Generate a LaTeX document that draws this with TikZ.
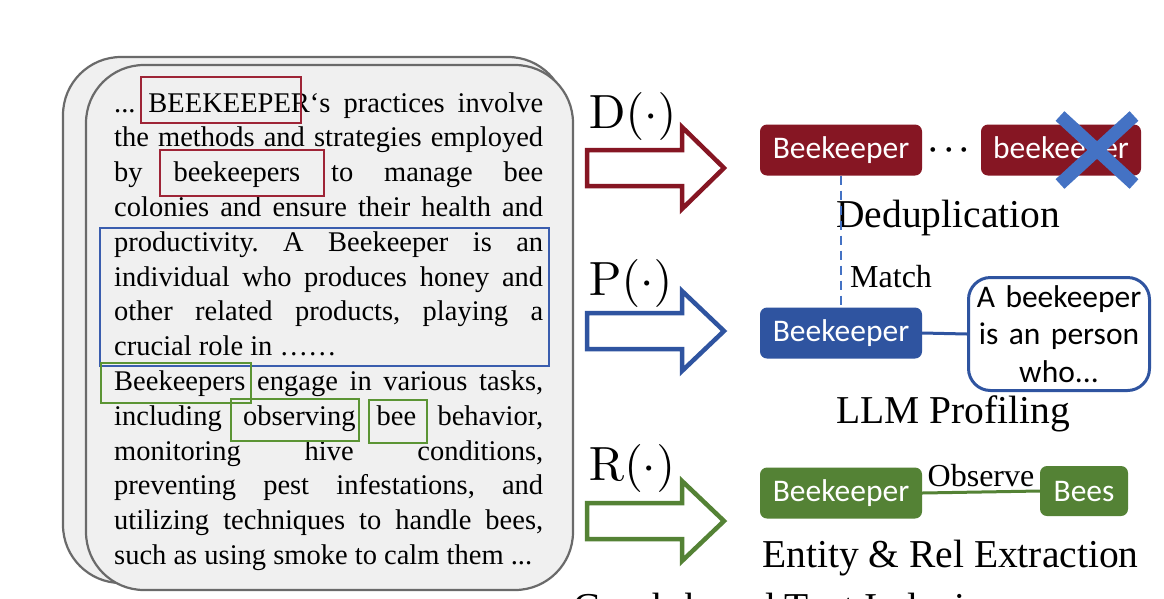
\documentclass[tikz,border=0pt]{standalone}
\usepackage[no-math]{fontspec}
\setmainfont{Liberation Serif}
\newfontfamily\carlito{Carlito}
\definecolor{dred}{HTML}{861623}
\definecolor{bred}{HTML}{9E2436}
\definecolor{dblue}{HTML}{2F54A0}
\definecolor{lblue}{HTML}{4472C4}
\definecolor{bblue}{HTML}{3A5DAE}
\definecolor{dgreen}{HTML}{548235}
\definecolor{bgreen}{HTML}{5B9434}
\definecolor{cardfill}{HTML}{F0F0F0}
\definecolor{cardline}{HTML}{6A6A6A}
\tikzset{
  card/.style={draw=cardline, line width=2.2pt, fill=cardfill, rounded corners=58pt},
  wordbox/.style={line width=2.8pt},
  tag/.style={rounded corners=7pt, text=white, font=\carlito\fontsize{31.5}{36}\selectfont,
    minimum width=162pt, minimum height=51pt, inner sep=0pt},
  bigarrow/.style={line width=4.5pt, fill=white, line join=miter},
  lbl/.style={font=\fontsize{39.5}{45}\selectfont, inner sep=0pt, anchor=base west},
  fn/.style={font=\fontsize{10}{12}\selectfont, inner sep=0pt, anchor=base west, scale=4.8},
  smalllbl/.style={font=\fontsize{32}{38}\selectfont, inner sep=0pt, text=black},
}
\begin{document}
\begin{tikzpicture}[x=1pt,y=-1pt]
\useasboundingbox (0,0) rectangle (1164,598);
\fill[white] (0,0) rectangle (1164,598);
% document cards
\draw[card] (63,57) rectangle (566,583);
\draw[card] (86,65) rectangle (573,590);
% text
\node[inner sep=0pt, anchor=base west] (txt) at (114,112) {\parbox[t]{429pt}{\fontsize{28.5}{34.8}\selectfont\frenchspacing\hyphenpenalty=10000\tolerance=10000
... BEEKEEPER‘s practices involve\linebreak
the methods and strategies employed\linebreak
by beekeepers to manage bee\linebreak
colonies and ensure their health and\linebreak
productivity. A Beekeeper is an\linebreak
individual who produces honey and\linebreak
other related products, playing a\linebreak
crucial role in ……\par
Beekeepers engage in various tasks,\linebreak
including observing bee behavior,\linebreak
monitoring hive conditions,\linebreak
preventing pest infestations, and\linebreak
utilizing techniques to handle bees,\linebreak
such as using smoke to calm them ...\par}};
% highlight boxes
\draw[wordbox, draw=bred] (141,77) rectangle (301,123);
\draw[wordbox, draw=bred] (160,150) rectangle (324,196);
\draw[wordbox, draw=bblue] (100,228) rectangle (549,366);
\draw[wordbox, draw=bgreen] (101,363) rectangle (251,403);
\draw[wordbox, draw=bgreen] (231,399) rectangle (359,441);
\draw[wordbox, draw=bgreen] (369,400) rectangle (427,443);
% block arrows
\draw[bigarrow, draw=dred] (587,150) -- (682,150) -- (682,127) -- (724,168) -- (682,209) -- (682,186) -- (587,186) -- cycle;
\draw[bigarrow, draw=dblue] (587,313) -- (682,313) -- (682,291) -- (724,331) -- (682,371) -- (682,349) -- (587,349) -- cycle;
\draw[bigarrow, draw=dgreen] (587,503) -- (682,503) -- (682,481) -- (724,521) -- (682,561) -- (682,539) -- (587,539) -- cycle;
% operator labels
\node[fn] (dop) at (588,128) {$\mathrm{D}(\cdot)$};
\node[fn] (pop) at (588,295) {$\mathrm{P}(\cdot)$};
\node[fn] (rop) at (588,480) {$\mathrm{R}(\cdot)$};
% deduplication
\node[tag, fill=dred] (rb1) at (841,150) {Beekeeper};
\node[font=\fontsize{10}{12}\selectfont\boldmath, inner sep=0pt, scale=3] (dots) at (949,150) {$\cdots$};
\node[tag, fill=dred, minimum width=160pt] (rb2) at (1061,150) {beekeeper};
\draw[lblue, line width=13pt] (1060,116) -- (1134,184);
\draw[lblue, line width=13pt] (1060,184) -- (1134,116);
\node[lbl] (dedup) at (836,227) {Deduplication};
% profiling
\node[tag, fill=dblue] (bb) at (841,333) {Beekeeper};
\draw[lblue, line width=2.5pt, dash pattern=on 9pt off 6pt] (rb1.south) -- (bb.north);
\node[smalllbl, anchor=base west] (match) at (850,287) {Match};
\node[draw=dblue, line width=3pt, rounded corners=22pt, fill=white, minimum width=181pt,
  minimum height=113pt, text width=175pt, align=center, inner sep=2pt,
  font=\carlito\fontsize{31.5}{37.5}\selectfont] (prof) at (1059,334) {A beekeeper\\is an person\\who...};
\draw[dblue, line width=3pt] (bb.east) -- (prof.west);
\node[lbl] (llm) at (836,423) {LLM Profiling};
% extraction
\node[tag, fill=dgreen] (gb) at (841,493) {Beekeeper};
\node[tag, fill=dgreen, minimum width=88pt, minimum height=50pt] (bees) at (1084,491) {Bees};
\draw[dgreen, line width=3pt] (gb.east) -- (bees.west)
  node[smalllbl, midway, anchor=base, yshift=6pt] (obs) {Observe};
\node[lbl] (ere) at (762,567) {Entity \& Rel Extraction};
\node[lbl] (gti) at (573,620) {Graph-based Text Indexing};
\end{tikzpicture}
\end{document}
